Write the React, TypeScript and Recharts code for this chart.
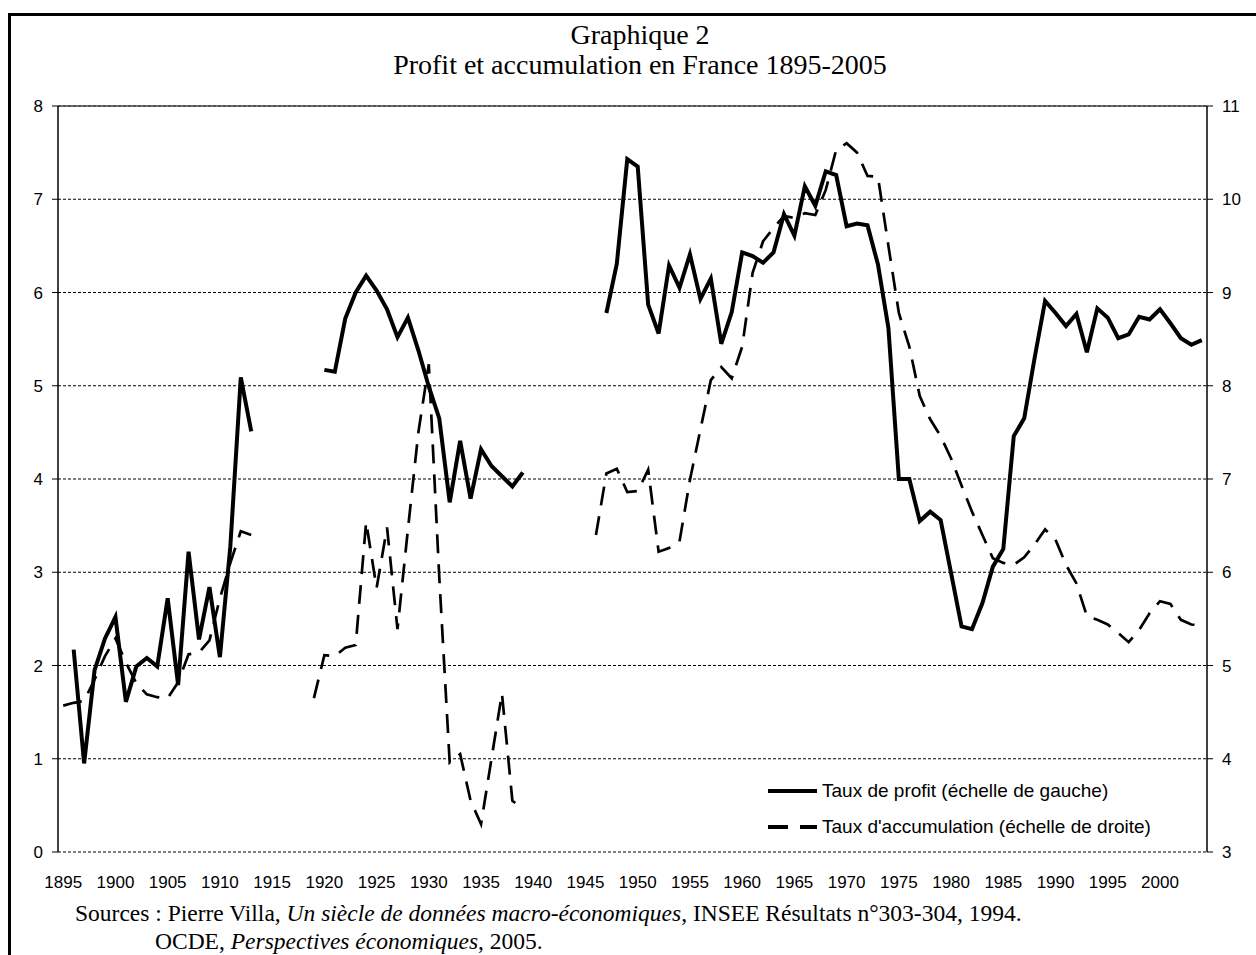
import React from 'react';
import { LineChart, Line, XAxis, YAxis, CartesianGrid, ReferenceLine, Legend } from 'recharts';

// categories: one per year, 1895 to 2004
const firstYear = 1895;
const years = Array.from({ length: 110 }, (_, i) => firstYear + i);

// Taux de profit (left scale)
const profit = [
  null, 2.17, 0.95, 1.95, 2.29, 2.52, 1.61, 1.99, 2.08, 1.99, // 1895
  2.72, 1.79, 3.22, 2.28, 2.84, 2.09, 3.28, 5.09, 4.51, null, // 1905
  null, null, null, null, null, 5.17, 5.15, 5.72, 6.0, 6.18, // 1915
  6.02, 5.82, 5.52, 5.73, 5.38, 4.99, 4.65, 3.75, 4.41, 3.79, // 1925
  4.32, 4.14, 4.03, 3.92, 4.07, null, null, null, null, null, // 1935
  null, null, 5.78, 6.31, 7.43, 7.35, 5.87, 5.56, 6.29, 6.05, // 1945
  6.41, 5.93, 6.15, 5.45, 5.79, 6.43, 6.39, 6.32, 6.43, 6.84, // 1955
  6.61, 7.14, 6.93, 7.3, 7.26, 6.71, 6.74, 6.72, 6.3, 5.62, // 1965
  4.0, 4.0, 3.55, 3.65, 3.56, 2.99, 2.42, 2.39, 2.67, 3.06, // 1975
  3.25, 4.46, 4.65, 5.3, 5.91, 5.78, 5.64, 5.77, 5.36, 5.83, // 1985
  5.73, 5.51, 5.55, 5.74, 5.71, 5.82, 5.67, 5.51, 5.44, 5.49, // 1995
];

// Taux d'accumulation (right scale)
const accumulation = [
  4.57, 4.6, 4.62, 4.85, 5.1, 5.29, 5.03, 4.81, 4.69, 4.66, // 1895
  4.65, 4.82, 5.12, 5.14, 5.27, 5.72, 6.1, 6.44, 6.4, null, // 1905
  null, null, null, null, 4.65, 5.11, 5.1, 5.19, 5.22, 6.54, // 1915
  5.83, 6.48, 5.39, 6.46, 7.5, 8.23, 5.95, 3.96, 4.05, 3.55, // 1925
  3.3, 4.0, 4.7, 3.55, 3.46, null, null, null, null, null, // 1935
  null, 6.4, 7.06, 7.11, 6.86, 6.87, 7.1, 6.22, 6.26, 6.33, // 1945
  6.99, 7.53, 8.06, 8.2, 8.08, 8.42, 9.21, 9.55, 9.69, 9.82, // 1955
  9.8, 9.85, 9.83, 10.1, 10.53, 10.6, 10.5, 10.25, 10.24, 9.5, // 1965
  8.78, 8.42, 7.89, 7.64, 7.46, 7.22, 6.93, 6.65, 6.4, 6.15, // 1975
  6.1, 6.08, 6.16, 6.3, 6.46, 6.35, 6.08, 5.88, 5.53, 5.49, // 1985
  5.44, 5.35, 5.25, 5.38, 5.56, 5.69, 5.66, 5.49, 5.44, 5.43, // 1995
];

const yearLabels = [1895, 1900, 1905, 1910, 1915, 1920, 1925, 1930, 1935, 1940, 1945,
  1950, 1955, 1960, 1965, 1970, 1975, 1980, 1985, 1990, 1995, 2000];
const yearBounds = [1894.5, 1899.5, 1904.5, 1909.5, 1914.5, 1919.5, 1924.5, 1929.5, 1934.5,
  1939.5, 1944.5, 1949.5, 1954.5, 1959.5, 1964.5, 1969.5, 1974.5, 1979.5, 1984.5, 1989.5,
  1994.5, 1999.5, 2004.5];
const leftTicks = [0, 1, 2, 3, 4, 5, 6, 7, 8];
const rightTicks = [3, 4, 5, 6, 7, 8, 9, 10, 11];

const legendItems = [
  { label: 'Taux de profit (échelle de gauche)', dash: undefined, width: 4 },
  { label: "Taux d'accumulation (échelle de droite)", dash: '20 12', width: 4 },
];

const data = years.map((year, i) => ({ year, profit: profit[i], accumulation: accumulation[i] }));

const sans = "'Liberation Sans', Arial, sans-serif";
const serif = "'Liberation Serif', 'Times New Roman', serif";
const tickStyle = { fill: '#000', fontSize: 17, fontFamily: sans };

function LegendBox() {
  return (
    <div style={{ fontFamily: sans, fontSize: 19, color: '#000' }}>
      {legendItems.map((it) => (
        <div key={it.label} style={{ display: 'flex', alignItems: 'center', height: 36 }}>
          <svg width={52} height={10} style={{ marginRight: 4 }}>
            <line x1={2} y1={5} x2={51} y2={5} stroke="#000" strokeWidth={it.width} strokeDasharray={it.dash} />
          </svg>
          <span>{it.label}</span>
        </div>
      ))}
    </div>
  );
}

export default function App() {
  return (
    <div style={{ position: 'fixed', left: 0, top: 0, width: 1256, height: 955, overflow: 'hidden', background: '#fff' }}>
      <div style={{ position: 'absolute', left: 8, top: 13, width: 1400, height: 1100, borderLeft: '3px solid #000', borderTop: '3px solid #000' }} />
      <div style={{ position: 'absolute', left: 0, width: 1280, top: 20, textAlign: 'center', fontFamily: serif, fontSize: 28, lineHeight: '30px', color: '#000' }}>
        <div>Graphique 2</div>
        <div>Profit et accumulation en France 1895-2005</div>
      </div>

      <LineChart width={1256} height={955} data={data}
        margin={{ top: 106, right: 4, bottom: 73, left: 8 }}
        style={{ position: 'absolute', left: 0, top: 0 }}>
        <CartesianGrid yAxisId="left" xAxisId="lab" horizontal vertical={false}
          stroke="#000" strokeDasharray="3 2" strokeWidth={1} />
        <XAxis xAxisId="bounds" dataKey="year" type="number" domain={[1894.5, 2004.5]}
          ticks={yearBounds} tick={false} height={0} tickSize={6}
          axisLine={{ stroke: '#000', strokeWidth: 1.5 }} tickLine={{ stroke: '#000' }} />
        <XAxis xAxisId="lab" dataKey="year" type="number" domain={[1894.5, 2004.5]}
          ticks={yearLabels} interval={0} height={30} tickSize={6} tickMargin={18}
          axisLine={false} tickLine={false} tick={tickStyle} />
        <YAxis yAxisId="left" domain={[0, 8]} ticks={leftTicks} width={50} tickSize={6} tickMargin={9}
          axisLine={{ stroke: '#000', strokeWidth: 1.5 }} tickLine={{ stroke: '#000' }} tick={tickStyle} />
        <YAxis yAxisId="right" orientation="right" domain={[3, 11]} ticks={rightTicks} width={45}
          tickSize={6} tickMargin={9}
          axisLine={{ stroke: '#000', strokeWidth: 1.5 }} tickLine={{ stroke: '#000' }} tick={tickStyle} />
        <ReferenceLine yAxisId="left" xAxisId="lab" y={8} stroke="#444" strokeWidth={1.5} />
        <Line xAxisId="lab" yAxisId="right" dataKey="accumulation" type="linear" stroke="#000"
          strokeWidth={2.7} strokeDasharray="19 11" dot={false} connectNulls={false} isAnimationActive={false} />
        <Line xAxisId="lab" yAxisId="left" dataKey="profit" type="linear" stroke="#000"
          strokeWidth={4} dot={false} connectNulls={false} isAnimationActive={false} />
        <Legend layout="vertical" align="center" verticalAlign="middle" content={<LegendBox />}
          wrapperStyle={{ left: 766, top: 773, width: 420 }} />
      </LineChart>

      <div style={{ position: 'absolute', left: 75, top: 899, fontFamily: serif, fontSize: 23.5, lineHeight: '28px', color: '#000', whiteSpace: 'nowrap' }}>
        <div>Sources : Pierre Villa, <i>Un siècle de données macro-économiques</i>, INSEE Résultats n°303-304, 1994.</div>
        <div style={{ paddingLeft: 80 }}>OCDE, <i>Perspectives économiques</i>, 2005.</div>
      </div>
    </div>
  );
}
